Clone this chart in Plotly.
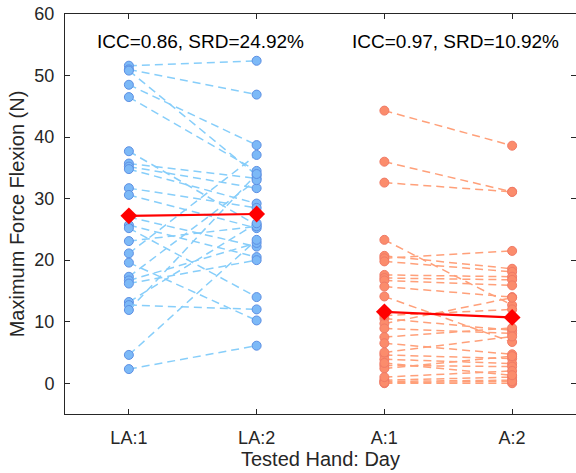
import plotly.graph_objects as go

categories = ["LA:1", "LA:2", "A:1", "A:2"]

# LA group (paired day 1 -> day 2)
la_day1 = [51.6, 51.0, 50.8, 48.5, 46.5, 37.7, 35.7, 35.2, 34.8, 31.7, 30.6, 27.0, 25.7,
           25.2, 23.1, 21.1, 19.6, 17.3, 16.7, 16.2, 13.2, 12.7, 11.9, 4.6, 2.3]
la_day2 = [52.4, 46.9, 33.8, 38.7, 34.5, 25.7, 33.3, 31.7, 29.2, 28.5, 25.2, 22.2, 20.5,
           14.0, 25.5, 37.1, 10.2, 33.0, 22.8, 20.0, 26.0, 12.0, 34.0, 23.3, 6.1]

# A group (paired day 1 -> day 2)
a_day1 = [44.3, 36.0, 32.6, 23.3, 20.7, 20.3, 19.8, 17.6, 17.1, 16.7, 15.7, 14.1, 10.5,
          9.7, 8.9, 7.5, 6.5, 4.6, 3.9, 2.9, 2.4, 0.5, 0.3, 0.0, 0.1, 1.0, 3.3, 5.0, 11.0]
a_day2 = [38.6, 31.1, 31.1, 12.7, 18.6, 21.5, 18.1, 17.3, 16.8, 15.9, 14.0, 6.7, 8.6,
          13.9, 8.1, 9.0, 4.7, 4.0, 3.2, 2.7, 4.4, 1.0, 0.5, 0.0, 0.3, 2.0, 1.3, 7.6, 12.0]

la_mean = [27.2, 27.5]
a_mean = [11.6, 10.7]

annot_text = ["ICC=0.86, SRD=24.92%", "ICC=0.97, SRD=10.92%"]
annot_x = [1.56, 3.56]
annot_y = 55.6

yticks = [0, 10, 20, 30, 40, 50, 60]

FONT = "Liberation Sans, Arial, Helvetica, sans-serif"
TXT = "#262626"

fig = go.Figure()

def add_pairs(d1, d2, xpos, line_col, fill_col, edge_col):
    for v1, v2 in zip(d1, d2):
        fig.add_trace(go.Scatter(
            x=xpos, y=[v1, v2], mode="lines+markers",
            line=dict(color=line_col, width=1.5, dash="8px,5px"),
            marker=dict(size=9, color=fill_col, line=dict(color=edge_col, width=1)),
            showlegend=False, hoverinfo="skip"))

add_pairs(la_day1, la_day2, [1, 2], "#87CEFA", "#7cb9f7", "#5d8fe3")
add_pairs(a_day1, a_day2, [3, 4], "#FFA07A", "#fb8c6c", "#f07a66")

for means, xs in ((la_mean, [1, 2]), (a_mean, [3, 4])):
    fig.add_trace(go.Scatter(x=xs, y=means, mode="lines+markers",
                             line=dict(color="#ff0000", width=2.2),
                             marker=dict(symbol="diamond", size=13, color="#ff0000"),
                             showlegend=False))

for t, xx in zip(annot_text, annot_x):
    fig.add_annotation(x=xx, y=annot_y, text=t, showarrow=False,
                       font=dict(family=FONT, size=19, color="#000000"),
                       xanchor="center", yanchor="middle")

fig.update_layout(
    width=576, height=473,
    margin=dict(l=65, r=0, t=14, b=59),
    paper_bgcolor="white", plot_bgcolor="white",
    font=dict(family=FONT, size=18, color=TXT),
    xaxis=dict(range=[0.5, 4.5], tickmode="array", tickvals=[1, 2, 3, 4],
               ticktext=categories, ticks="inside", ticklen=5, tickcolor=TXT,
               showline=True, linecolor=TXT, linewidth=1, mirror="allticks",
               showgrid=False, zeroline=False, ticklabelstandoff=7, automargin=False,
               tickfont=dict(size=18, color=TXT),
               title=dict(text="Tested Hand: Day", font=dict(size=20, color=TXT), standoff=4)),
    yaxis=dict(range=[-5, 60], tickmode="array", tickvals=yticks,
               ticks="inside", ticklen=5, tickcolor=TXT,
               showline=True, linecolor=TXT, linewidth=1, mirror="allticks",
               showgrid=False, zeroline=False, ticklabelstandoff=6, automargin=False,
               tickfont=dict(size=18, color=TXT),
               title=dict(text="Maximum Force Flexion (N)", font=dict(size=20, color=TXT), standoff=4)),
)

fig.write_html("out.html")
